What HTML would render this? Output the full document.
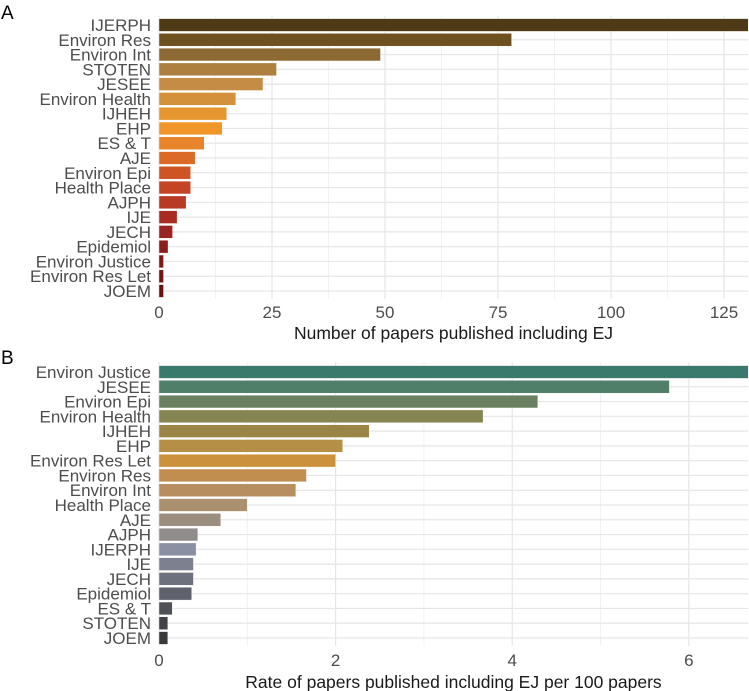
<!DOCTYPE html>
<html><head><meta charset="utf-8"><style>
html,body{margin:0;padding:0;background:#fff;}
svg{display:block;font-family:"Liberation Sans",Arial,sans-serif;}
</style></head><body>
<svg id="chart" width="749" height="691" xmlns="http://www.w3.org/2000/svg"></svg>
<script>
const catsA = ["IJERPH","Environ Res","Environ Int","STOTEN","JESEE","Environ Health","IJHEH","EHP","ES & T","AJE","Environ Epi","Health Place","AJPH","IJE","JECH","Epidemiol","Environ Justice","Environ Res Let","JOEM"];
const valsA = [131,78,49,26,23,17,15,14,10,8,7,7,6,4,3,2,1,1,1];
const colsA = ["#4f3a17","#6f5020","#8d6a34","#ad8040","#c58c45","#d4913c","#e5962f","#f0962a","#e8852b","#dc6a27","#cf5424","#c44425","#b83a24","#a82c22","#9a2420","#8c1d1b","#7e1715","#741413","#6b1210"];
const ticksA = [0,25,50,75,100,125];
const catsB = ["Environ Justice","JESEE","Environ Epi","Environ Health","IJHEH","EHP","Environ Res Let","Environ Res","Environ Int","Health Place","AJE","AJPH","IJERPH","IJE","JECH","Epidemiol","ES & T","STOTEN","JOEM"];
const valsB = [6.8,5.78,4.29,3.67,2.38,2.08,2.0,1.67,1.55,1.0,0.70,0.44,0.42,0.39,0.39,0.37,0.15,0.10,0.10];
const colsB = ["#3a7a6d","#4f7f68","#6a8060","#848552","#9a8547","#b48f45","#cc913c","#c18e50","#b68e60","#aa906f","#9c8e7f","#908c8c","#8a8fa2","#7d808f","#6d707d","#5f616c","#4f5058","#424247","#3a3a3c"];
const ticksB = [0,2,4,6];

const svg = document.getElementById('chart');
const NS = "http://www.w3.org/2000/svg";
function mk(tag, attrs, parent){const e=document.createElementNS(NS,tag);for(const k in attrs)e.setAttribute(k,attrs[k]);(parent||svg).appendChild(e);return e;}

function panel(opt){
  const {cats,vals,cols,ticks,xmax,top,bottom,firstY,lastY,letter,letterY,title,tickY,titleY,name}=opt;
  const x0=159,x1=748;
  const xs=v=>x0+(v/xmax)*(x1-x0);
  const step=(lastY-firstY)/(cats.length-1);
  const ys=i=>firstY+i*step;
  const g=mk('g',{});
  
  
  const clipId='clip'+letter;
  const cp=mk('clipPath',{id:clipId},g);
  mk('rect',{x:x0,y:top,width:x1-x0,height:bottom-top},cp);
  for(let i=0;i<ticks.length;i++){
    const m=ticks[i]+(ticks[1]-ticks[0])/2;
    if(m<xmax){const l=mk('line',{x1:xs(m),x2:xs(m),y1:top,y2:bottom,stroke:'#f2f2f2','stroke-width':1},g);
    
    }
  }
  ticks.forEach(t=>{
    const l=mk('line',{x1:xs(t),x2:xs(t),y1:top,y2:bottom,stroke:'#e6e6e6','stroke-width':1.2},g);
    
    
    const tx=mk('text',{x:xs(t),y:tickY,'text-anchor':'middle','font-size':17,fill:'#4d4d4d'},g);
    tx.textContent=t;
    
    
  });
  cats.forEach((c,i)=>{
    const gl=mk('line',{x1:x0,x2:x1,y1:ys(i),y2:ys(i),stroke:'#e6e6e6','stroke-width':1.2},g);
    
    
  });
  const bg=mk('g',{'clip-path':'url(#'+clipId+')'},g);
  cats.forEach((c,i)=>{
    const r=mk('rect',{x:x0,y:ys(i)-6.4,width:xs(vals[i])-x0,height:12.8,fill:cols[i],stroke:'#ffffff','stroke-width':0.4},bg);
    
    
    const t=mk('text',{x:151,y:ys(i)+6,'text-anchor':'end','font-size':17,fill:'#4d4d4d'},g);
    t.textContent=c;
    
    
  });
  const tt=mk('text',{x:(x0+x1)/2,y:titleY,'text-anchor':'middle','font-size':17.5,fill:'#1a1a1a'},g);
  tt.textContent=title;
  
  
  const lt=mk('text',{x:1,y:letterY,'font-size':19,fill:'#000'},g);
  lt.textContent=letter;
  
  
}
panel({cats:catsA,vals:valsA,cols:colsA,ticks:ticksA,xmax:130.3,top:16,bottom:299,firstY:25,lastY:291,letter:'A',letterY:19,title:'Number of papers published including EJ',tickY:318,titleY:339,name:'panel-a'});
panel({cats:catsB,vals:valsB,cols:colsB,ticks:ticksB,xmax:6.67,top:362,bottom:646,firstY:372,lastY:638,letter:'B',letterY:364,title:'Rate of papers published including EJ per 100 papers',tickY:666,titleY:688,name:'panel-b'});
</script>
</body></html>
